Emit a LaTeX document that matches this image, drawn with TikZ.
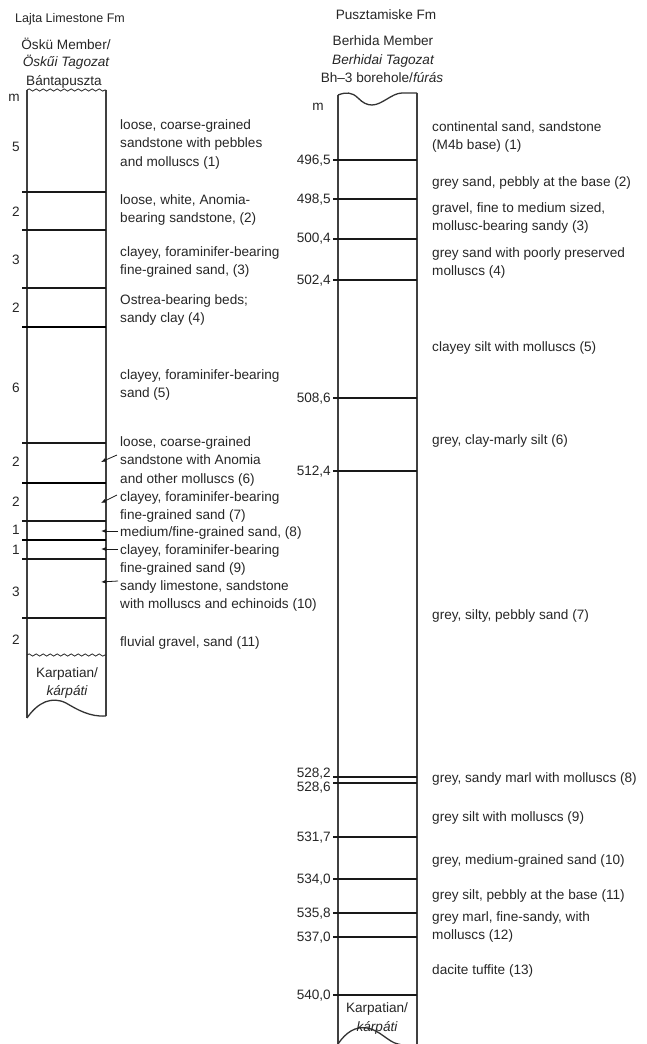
\documentclass[tikz,border=0pt]{standalone}
\usepackage{fontspec}
\setmainfont{Liberation Sans}
\usetikzlibrary{decorations.pathmorphing,arrows.meta}
\begin{document}
\begin{tikzpicture}[x=1pt,y=-1pt,
  every node/.style={text=black!85},
  txt/.style={anchor=north west,inner sep=0pt,align=left,font=\fontsize{13.6}{18.5}\selectfont},
  lbl/.style={inner sep=0pt,anchor=base,font=\fontsize{13.6}{18.5}\selectfont},
  dlbl/.style={inner sep=0pt,anchor=base east,font=\fontsize{13.6}{18.5}\selectfont},
  colside/.style={line width=1.6pt,draw=black!75},
  thinbed/.style={line width=1.2pt,draw=black!90},
  thickbed/.style={line width=2.5pt,draw=black},
  leader/.style={line width=0.8pt,draw=black!90,-{Latex[length=5pt,width=4pt]}},
  wavy/.style={decorate,decoration={snake,amplitude=1.1pt,segment length=7pt},line width=0.8pt,draw=black!85},
  brk/.style={line width=1.3pt,draw=black!80}]
\useasboundingbox (0,0) rectangle (647,1044);

% ---------- headers ----------
\node[lbl,font=\fontsize{12.5}{15}\selectfont] (hL1) at (70,22.5) {Lajta Limestone Fm};
\node[lbl] (hL2) at (66,49) {Öskü Member/};
\node[lbl] (hL3) at (66,66.5) {\itshape Öskűi Tagozat};
\node[lbl] (hL4) at (64,85) {Bántapuszta};

\node[lbl] (hR1) at (386,19.5) {Pusztamiske Fm};
\node[lbl] (hR2) at (383,45) {Berhida Member};
\node[lbl] (hR3) at (383,64) {\itshape Berhidai Tagozat};
\node[lbl] (hR4) at (382,82) {Bh–3 borehole/\textit{fúrás}};

\node[lbl] (mL) at (14,101) {m};
\node[lbl] (mR) at (318,110) {m};

% ---------- left column ----------
\draw[colside] (27,90) -- (27,718);
\draw[colside] (106,90) -- (106,716);
\draw[wavy] (27,90) -- (106,90);
\draw[wavy] (27,655) -- (106,655);
\draw[brk] (27,718) .. controls (38,702) and (52,696) .. (66,703) .. controls (78,710) and (90,717) .. (106,716);

\foreach \yy in {192,230,288,443,521,559,618}
  \draw[thinbed] (22,\yy) -- (106,\yy);
\foreach \yy in {327,483,540}
  \draw[thickbed] (22,\yy) -- (106,\yy);

\foreach \nm/\val/\yy in {n1/5/147,n2/2/212,n3/3/260,n4/2/308,n5/6/388,n6/2/462,n7/2/502,n8/1/530,n9/1/550,n10/3/592,n11/2/640}
  \node[lbl] (\nm) at (16,\yy+4.8) {\val};

\node[txt] (t1) at (120,116) {\strut loose, coarse-grained\\sandstone with pebbles\\and molluscs (1)};
\node[txt] (t2) at (120,191) {\strut loose, white, Anomia-\\bearing sandstone, (2)};
\node[txt] (t3) at (120,243) {\strut clayey, foraminifer-bearing\\fine-grained sand, (3)};
\node[txt] (t4) at (120,291) {\strut Ostrea-bearing beds;\\sandy clay (4)};
\node[txt] (t5) at (120,366) {\strut clayey, foraminifer-bearing\\sand (5)};
\node[txt] (t6) at (120,433) {\strut loose, coarse-grained\\sandstone with Anomia\\and other molluscs (6)};
\node[txt] (t7) at (120,488) {\strut clayey, foraminifer-bearing\\fine-grained sand (7)};
\node[txt] (t8) at (120,523) {\strut medium/fine-grained sand, (8)};
\node[txt] (t9) at (120,541) {\strut clayey, foraminifer-bearing\\fine-grained sand (9)};
\node[txt] (t10) at (120,577) {\strut sandy limestone, sandstone\\with molluscs and echinoids (10)};
\node[txt] (t11) at (120,633) {\strut fluvial gravel, sand (11)};

\coordinate (s6) at (117,455);  \coordinate (e6) at (101,462);
\coordinate (s7) at (117,495);  \coordinate (e7) at (101,503);
\coordinate (s8) at (118,531);  \coordinate (e8) at (101,531);
\coordinate (s9) at (118,549);  \coordinate (e9) at (101,549);
\coordinate (s10) at (118,581); \coordinate (e10) at (101,582);
\foreach \k in {6,7,8,9,10} \draw[leader] (s\k) -- (e\k);

\node[lbl] (kL1) at (67,677) {Karpatian/};
\node[lbl] (kL2) at (67,695) {\itshape kárpáti};

% ---------- right column ----------
\draw[colside] (338,95) -- (338,1050);
\draw[colside] (417,93) -- (417,1050);
\draw[brk] (338,95) .. controls (346,92) and (352,92) .. (358,98) .. controls (363,103) and (367,105) .. (372,105)
  .. controls (382,105) and (392,93) .. (402,93) -- (417,93);
\draw[brk] (338,1044) .. controls (346,1032) and (356,1026) .. (367,1028) .. controls (380,1030) and (388,1042) .. (398,1044) .. controls (406,1046) and (412,1046) .. (417,1046);

\foreach \yy in {160,199,239,280,398,471,777,783,837,879,913,937,995}
  \draw[thinbed] (333,\yy) -- (417,\yy);

\foreach \nm/\val/\yy in {d1/{496,5}/160,d2/{498,5}/199,d3/{500,4}/238,d4/{502,4}/280,d5/{508,6}/398,d6/{512,4}/471,d7/{528,2}/773,d8/{528,6}/787,d9/{531,7}/837,d10/{534,0}/879,d11/{535,8}/913,d12/{537,0}/937,d13/{540,0}/995}
  \node[dlbl] (\nm) at (331,\yy+4.8) {\val};

\node[txt] (r1) at (432,118) {\strut continental sand, sandstone\\(M4b base) (1)};
\node[txt] (r2) at (432,173) {\strut grey sand, pebbly at the base (2)};
\node[txt] (r3) at (432,199) {\strut gravel, fine to medium sized,\\mollusc-bearing sandy (3)};
\node[txt] (r4) at (432,244) {\strut grey sand with poorly preserved\\molluscs (4)};
\node[txt] (r5) at (432,338) {\strut clayey silt with molluscs (5)};
\node[txt] (r6) at (432,431) {\strut grey, clay-marly silt (6)};
\node[txt] (r7) at (432,606) {\strut grey, silty, pebbly sand (7)};
\node[txt] (r8) at (432,769) {\strut grey, sandy marl with molluscs (8)};
\node[txt] (r9) at (432,808) {\strut grey silt with molluscs (9)};
\node[txt] (r10) at (432,851) {\strut grey, medium-grained sand (10)};
\node[txt] (r11) at (432,886) {\strut grey silt, pebbly at the base (11)};
\node[txt] (r12) at (432,908) {\strut grey marl, fine-sandy, with\\molluscs (12)};
\node[txt] (r13) at (432,961) {\strut dacite tuffite (13)};

\node[lbl] (kR1) at (377,1012) {Karpatian/};
\node[lbl] (kR2) at (377,1031) {\itshape kárpáti};
\end{tikzpicture}
\end{document}
